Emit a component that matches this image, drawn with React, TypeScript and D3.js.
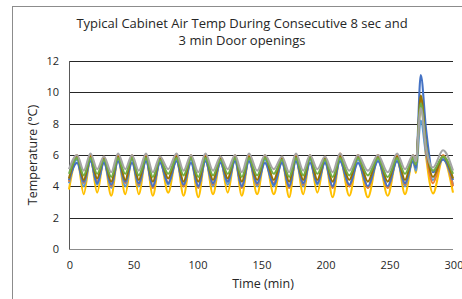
import React from "react";
import * as d3 from "d3";

const titleLines = ["Typical Cabinet Air Temp During Consecutive 8 sec and", "3 min Door openings"];
const yTicks = [0, 2, 4, 6, 8, 10, 12];
const xTicks = [0, 50, 100, 150, 200, 250, 300];

// key times (min): start, alternating peak/trough cycles, then door-opening spike
const keyTimes = [0,
  6.3, 11.5, 16.8, 22, 27.3, 33, 38.3, 44, 49.2, 54.5, 60.2, 65.5, 71.1, 77.5, 84.0, 89.5,
  95.3, 101, 106.6, 112.5, 118.4, 124, 129.7, 135, 140.6, 147, 153.1, 160, 166.4, 172,
  177.3, 183, 188.3, 194, 200, 206, 211.7, 219, 225.8, 233.5, 241.4, 249, 256.3, 262.5, 268.8,
  271, 274.8, 279, 284.4, 292.2, 300];

const gray = [5.1,
  6.0, 5.0, 6.1, 5.1, 5.9, 4.9, 6.1, 5.1, 6.0, 5.0, 6.1, 4.9, 5.9, 5.1, 6.1, 5.0,
  6.0, 4.9, 6.1, 5.0, 5.9, 5.1, 6.0, 4.9, 6.1, 5.0, 6.0, 5.1, 5.9, 4.9, 6.1, 5.0,
  6.0, 5.1, 5.9, 4.9, 6.1, 5.0, 6.0, 5.0, 6.0, 4.9, 6.1, 5.1, 6.0,
  5.6, 9.0, 6.4, 5.2, 6.3, 5.0];
const green = [4.8,
  5.8, 4.7, 5.8, 4.8, 5.7, 4.6, 5.8, 4.8, 5.8, 4.7, 5.8, 4.6, 5.7, 4.8, 5.8, 4.7,
  5.8, 4.6, 5.8, 4.7, 5.7, 4.8, 5.8, 4.6, 5.8, 4.7, 5.8, 4.8, 5.7, 4.6, 5.8, 4.7,
  5.8, 4.8, 5.7, 4.6, 5.8, 4.7, 5.8, 4.7, 5.8, 4.6, 5.8, 4.8, 5.8,
  5.4, 9.3, 6.5, 5.0, 5.9, 4.8];
const blue = [4.4,
  5.5, 4.3, 5.6, 4.2, 5.5, 4.1, 5.6, 4.3, 5.5, 4.2, 5.6, 4.0, 5.5, 4.2, 5.6, 4.1,
  5.5, 4.0, 5.6, 4.2, 5.5, 4.3, 5.6, 4.0, 5.6, 4.2, 5.5, 4.1, 5.5, 4.0, 5.6, 4.2,
  5.5, 4.2, 5.5, 4.0, 5.6, 4.1, 5.5, 4.0, 5.6, 4.0, 5.6, 4.2, 5.6,
  5.2, 11.1, 7.6, 4.9, 5.7, 4.4];
const lightBlue = [4.2,
  5.7, 4.0, 5.7, 4.1, 5.6, 3.9, 5.7, 4.0, 5.7, 4.0, 5.7, 3.9, 5.6, 4.1, 5.7, 4.0,
  5.7, 3.9, 5.7, 4.0, 5.6, 4.1, 5.7, 3.9, 5.7, 4.0, 5.7, 4.0, 5.6, 3.9, 5.7, 4.0,
  5.7, 4.1, 5.6, 3.9, 5.7, 4.0, 5.7, 3.9, 5.7, 3.9, 5.7, 4.0, 5.7,
  5.0, 8.2, 6.0, 4.4, 5.8, 4.1];
const orange = [4.3,
  6.0, 4.2, 6.0, 4.3, 5.9, 4.0, 6.0, 4.2, 6.0, 4.1, 6.0, 3.9, 5.9, 4.2, 6.0, 4.0,
  6.0, 3.9, 6.0, 4.1, 5.9, 4.3, 6.0, 3.9, 6.0, 4.1, 6.0, 4.2, 5.9, 3.9, 6.0, 4.1,
  6.0, 4.2, 5.9, 3.9, 6.1, 4.0, 6.0, 3.9, 6.0, 3.9, 6.0, 4.1, 6.0,
  5.5, 9.6, 6.3, 4.2, 6.0, 4.0];
const darkYellow = [4.5,
  5.9, 4.4, 5.9, 4.5, 5.8, 4.3, 5.9, 4.4, 5.9, 4.4, 5.9, 4.3, 5.8, 4.5, 5.9, 4.3,
  5.9, 4.3, 5.9, 4.4, 5.8, 4.5, 5.9, 4.3, 5.9, 4.4, 5.9, 4.4, 5.8, 4.3, 5.9, 4.4,
  5.9, 4.4, 5.8, 4.3, 5.9, 4.4, 5.9, 4.3, 5.9, 4.3, 5.9, 4.4, 5.9,
  5.4, 9.8, 6.6, 4.6, 5.9, 4.5];
const yellow = [3.8,
  5.8, 3.5, 5.8, 3.6, 5.7, 3.4, 5.8, 3.5, 5.8, 3.5, 5.8, 3.4, 5.7, 3.6, 5.8, 3.4,
  5.8, 3.3, 5.8, 3.5, 5.7, 3.6, 5.8, 3.4, 5.8, 3.5, 5.8, 3.5, 5.7, 3.3, 5.8, 3.5,
  5.8, 3.6, 5.7, 3.3, 5.8, 3.4, 5.8, 3.3, 5.8, 3.4, 5.8, 3.5, 5.8,
  4.85, 9.5, 5.9, 3.55, 5.8, 3.6];

const seriesList = [
  { name: "Yellow", values: yellow, color: "#FFC000" },
  { name: "Light blue", values: lightBlue, color: "#5B9BD5" },
  { name: "Orange", values: orange, color: "#ED7D31" },
  { name: "Blue", values: blue, color: "#4472C4" },
  { name: "Dark yellow", values: darkYellow, color: "#997300" },
  { name: "Green", values: green, color: "#70AD47" },
  { name: "Gray", values: gray, color: "#A5A5A5" },
];

const W = 462, H = 299;
const M = { left: 69, right: 453, top: 61, bottom: 249 };
const FONT = "'Open Sans', 'Noto Sans', sans-serif";
const TXT = "#262626";

export default function App() {
  const x = d3.scaleLinear().domain([0, 300]).range([M.left, M.right]);
  const y = d3.scaleLinear().domain([0, 12]).range([M.bottom, M.top]);
  const line = d3.line<number>()
    .x((_, i) => x(keyTimes[i]))
    .y((d) => y(d))
    .curve(d3.curveMonotoneX);

  return (
    <svg width={W} height={H} style={{ position: "absolute", left: 0, top: 0, background: "#fff" }}
      fontFamily={FONT}>
      <rect x={0} y={0} width={W} height={H} fill="#fff" />
      <rect x={12.5} y={6.5} width={470} height={320} fill="none" stroke="#8c8c8c" strokeWidth={1} />
      {titleLines.map((t, i) => (
        <text key={i} x={242} y={28 + i * 17} textAnchor="middle" fontSize={13} fill={TXT}>{t}</text>
      ))}
      {yTicks.map((v) => (
        <g key={v}>
          {v > 0 && (
            <line x1={M.left} x2={M.right} y1={Math.round(y(v)) + 0.5} y2={Math.round(y(v)) + 0.5}
              stroke="#262626" strokeWidth={1} />
          )}
          <text x={59} y={y(v) + 4} textAnchor="end" fontSize={11} fill={TXT}>{v}</text>
        </g>
      ))}
      {xTicks.map((v) => (
        <text key={v} x={x(v) + 1} y={269} textAnchor="middle" fontSize={11} fill={TXT}>{v}</text>
      ))}
      <line x1={M.left + 0.5} x2={M.left + 0.5} y1={M.top} y2={M.bottom} stroke="#595959" />
      <line x1={M.left} x2={M.right} y1={M.bottom + 0.5} y2={M.bottom + 0.5} stroke="#8c8c8c" />
      {seriesList.map((s) => (
        <path key={s.name} d={line(s.values) || ""} fill="none" stroke={s.color} strokeWidth={2.1}
          strokeLinejoin="round" />
      ))}
      <text x={263} y={288} textAnchor="middle" fontSize={12.5} fill={TXT}>Time (min)</text>
      <text transform={`translate(37,${(M.top + M.bottom) / 2}) rotate(-90)`} textAnchor="middle"
        fontSize={12.5} fill={TXT}>Temperature (°C)</text>
    </svg>
  );
}
